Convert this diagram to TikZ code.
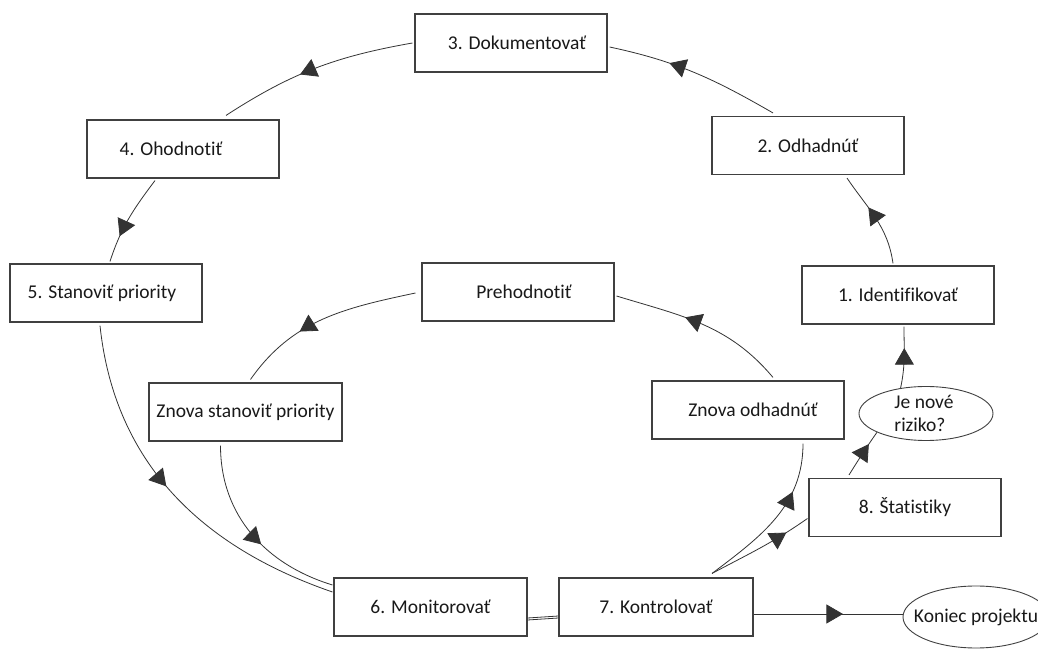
\documentclass[tikz,border=0pt]{standalone}
\usepackage{fontspec}
\setmainfont{Carlito}[Ligatures=NoCommon]
\usetikzlibrary{arrows.meta,decorations.markings,shapes.geometric}
\begin{document}
\begin{tikzpicture}[x=1pt,y=1pt,
  txt/.style={font=\fontsize{19.5}{23}\selectfont, text=black!90},
  box/.style={txt, draw=black!75, line width=1.1pt, minimum width=192pt, minimum height=58pt, inner sep=0pt},
  oval/.style={ellipse, draw=black!75, line width=0.9pt, inner sep=0pt},
  conn/.style={draw=black!80, line width=0.8pt},
  mid/.style={postaction={decorate}, decoration={markings, mark=at position #1 with {\arrow{Triangle[length=16.5pt,width=19pt]}}}},
]
\path[use as bounding box] (0,0) rectangle (1038,650);
\clip (0,0) rectangle (1038,650);
\fill[white] (0,0) rectangle (1038,650);

% boxes
\node[box] (n3)  at (511,607)   {\hspace*{12pt}3. Dokumentovať};
\node[box] (n2)  at (808,504.5) {2. Odhadnúť};
\node[box] (n4)  at (183,501)   {4. Ohodnotiť\hspace*{24pt}};
\node[box] (n5)  at (106,357)   {5. Stanoviť priority\hspace*{8pt}};
\node[box] (n1)  at (898,355)   {1. Identifikovať};
\node[box] (np)  at (518,358)   {\hspace*{12pt}Prehodnotiť};
\node[box, minimum width=193pt] (nzs) at (245.5,238) {Znova stanoviť priority};
\node[box] (nzo) at (748,240)   {\hspace*{10pt}Znova odhadnúť};
\node[box] (n8)  at (905,142.5) {8. Štatistiky};
\node[box, minimum width=193pt] (n6)  at (430.5,43) {6. Monitorovať};
\node[box, minimum width=194pt] (n7)  at (656,43)   {7. Kontrolovať};
\node[oval, minimum width=134pt, minimum height=54pt,
      label={[txt, align=left, xshift=-2pt]center:Je nové\\riziko?}] (nje) at (926,236.5) {};
\node[oval, minimum width=146pt, minimum height=62pt,
      label={[txt]center:Koniec projektu}] (nk) at (976,33) {};

% outer cycle
\draw[conn, mid=0.63] ([xshift=-5pt,yshift=2pt]n1.north) to[out=98,in=-56] ([xshift=39pt,yshift=-3pt]n2.south);
\draw[conn, mid=0.65] ([xshift=-35pt,yshift=3pt]n2.north) to[out=150,in=-12] ([xshift=2pt,yshift=-4pt]n3.east);
\draw[conn, mid=0.58] ([xshift=-2pt]n3.west) to[out=190,in=33] ([xshift=43pt,yshift=4pt]n4.north);
\draw[conn, mid=0.71] ([xshift=-28pt,yshift=-2pt]n4.south) to[out=233,in=72] ([xshift=4pt,yshift=2pt]n5.north);
\draw[conn, mid=0.47] ([xshift=-6pt,yshift=-3pt]n5.south) to[out=-84,in=161] ([xshift=-1pt,yshift=15pt]n6.west);

% inner cycle
\draw[conn, mid=0.6] ([xshift=25pt,yshift=3pt]nzo.north) to[out=130,in=-17] ([xshift=2pt,yshift=-4pt]np.east);
\draw[conn, mid=0.64] ([xshift=-6pt,yshift=-1pt]np.west) to[out=192,in=55] ([xshift=5pt,yshift=3pt]nzs.north);
\draw[conn, mid=0.57] ([xshift=-25pt,yshift=-4pt]nzs.south) to[out=-90,in=163] ([xshift=-1pt,yshift=22pt]n6.west);

% 6 -- 7
\draw[conn] ([yshift=-11pt]n6.east) -- ([yshift=-9pt]n7.west);
\draw[conn] ([yshift=-13pt]n6.east) -- ([yshift=-11pt]n7.west);

% from 7
\draw[conn, mid=0.70] ([xshift=56pt,yshift=4pt]n7.north) to[out=37,in=-90] ([xshift=55pt,yshift=-4pt]nzo.south);
\draw[conn, mid=0.77] ([xshift=56pt,yshift=4pt]n7.north) to[out=28,in=-145] ([xshift=-1pt,yshift=-11pt]n8.west);
\draw[conn, mid=0.6] ([yshift=-7pt]n7.east) -- ([yshift=3pt]nk.west);

% 8 -> Je nove -> 1
\draw[conn, mid=0.72] ([xshift=-56pt,yshift=3pt]n8.north) to[out=58,in=235] (nje.201);
\draw[conn, mid=0.65] (nje.135) to[out=78,in=-90] ([xshift=6pt,yshift=-2pt]n1.south);
\end{tikzpicture}
\end{document}
